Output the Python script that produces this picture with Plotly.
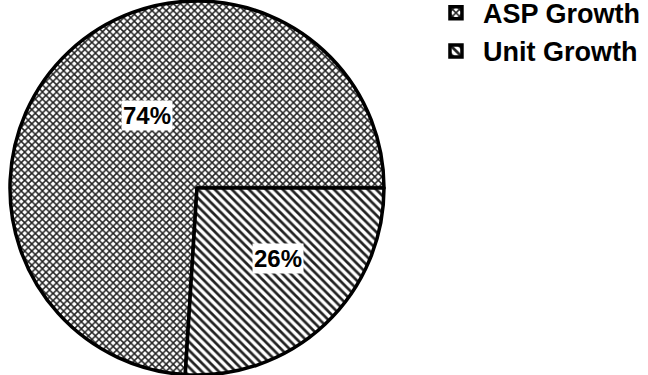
import math
import plotly.graph_objects as go

# Contribution to growth
labels = ["ASP Growth", "Unit Growth"]
shares = [74, 26]

W, H = 648, 375
cx, cy, r = 197, 188, 187  # pie centre and radius in pixels

rotation = 360 * shares[1] / 100 + 90  # Unit Growth slice begins at 3 o'clock

fig = go.Figure(
    go.Pie(
        labels=labels,
        values=shares,
        sort=False,
        direction="clockwise",
        rotation=rotation,
        textinfo="none",
        hoverinfo="label+percent",
        marker=dict(
            colors=["white", "white"],
            line=dict(color="black", width=3.5),
            pattern=dict(
                shape=["x", "\\"],
                fgcolor="#222222",
                bgcolor="white",
                size=[5, 6],
                solidity=[0.5, 0.45],
            ),
        ),
        domain=dict(x=[(cx - r) / W, (cx + r) / W], y=[(H - cy - r) / H, (H - cy + r) / H]),
    )
)

# percentage labels on white boxes, placed near each slice's mid-angle
total = sum(shares)
start = rotation
radial = [0.47, 0.575]
nudge = [8.8, -5.5]  # degrees away from the exact mid-angle
annotations = []
for v, f, d in zip(shares, radial, nudge):
    mid = math.radians(start + 180 * v / total + d)
    start += 360 * v / total
    px = cx + f * r * math.sin(mid)
    py = cy - f * r * math.cos(mid)
    annotations.append(
        dict(
            x=px / W, y=1 - py / H, xref="paper", yref="paper",
            xanchor="center", yanchor="middle",
            text=f"{v}%", showarrow=False,
            font=dict(family="Liberation Sans, Arial", size=24, color="black", weight="bold"),
            bgcolor="white", borderpad=1,
        )
    )

fig.update_layout(
    width=W, height=H,
    margin=dict(l=0, r=0, t=0, b=0, autoexpand=False),
    paper_bgcolor="white",
    plot_bgcolor="white",
    annotations=annotations,
    legend=dict(
        x=0.662, y=1.03, xanchor="left", yanchor="top",
        font=dict(family="Liberation Sans, Arial", size=27, color="black", weight="bold"),
        tracegroupgap=0, itemwidth=44,
    ),
    showlegend=True,
)

fig.write_html("out.html")
